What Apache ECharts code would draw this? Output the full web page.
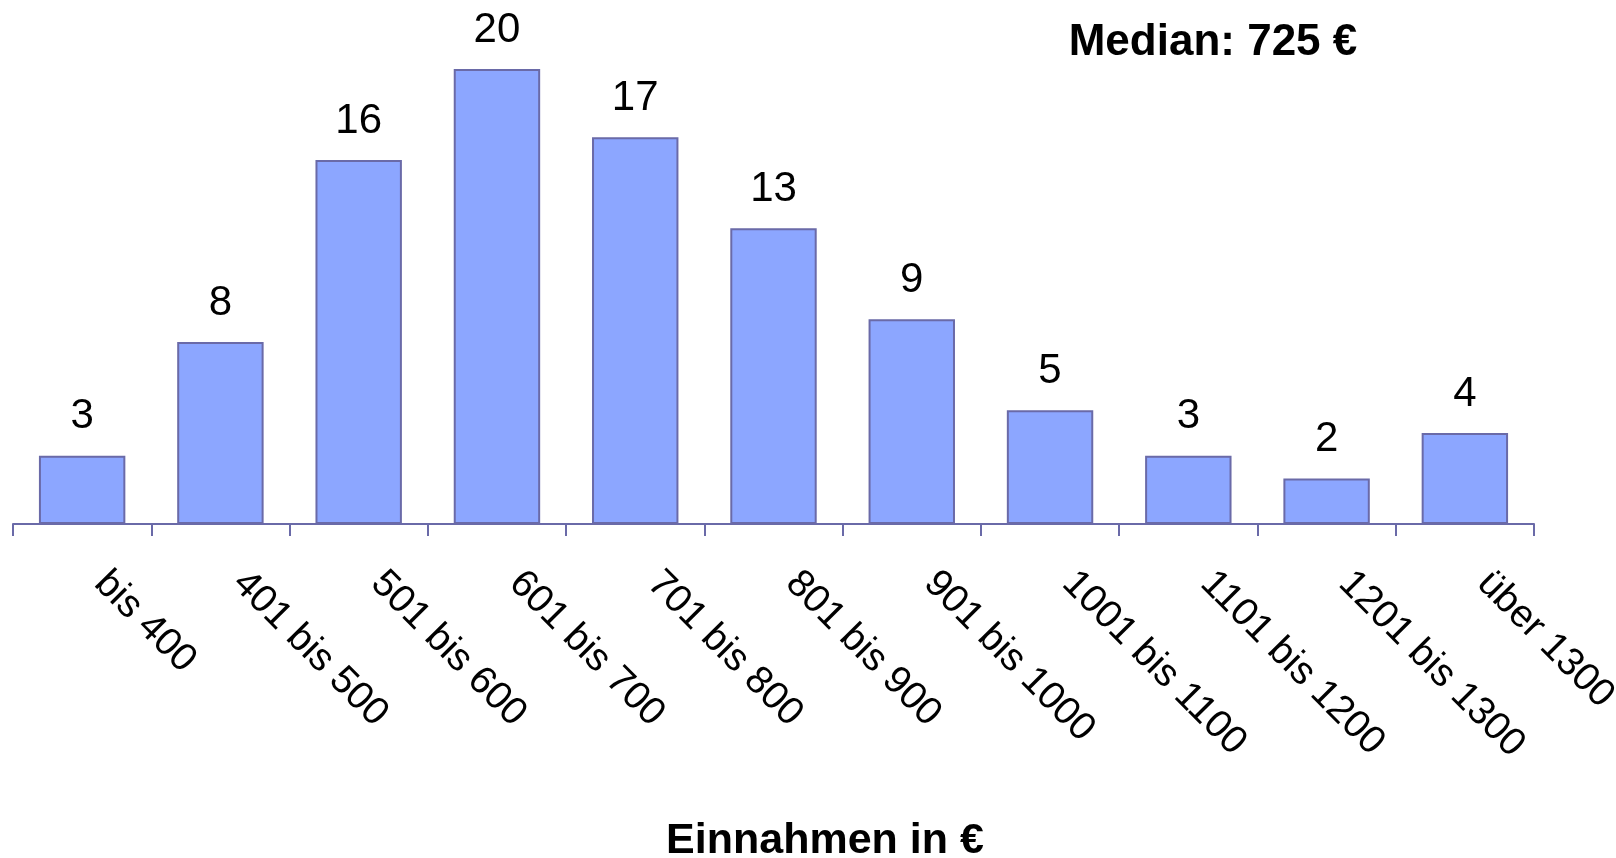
<!DOCTYPE html>
<html>
<head>
<meta charset="utf-8">
<style>
  html, body { margin: 0; padding: 0; background: #ffffff; }
  #chart { width: 1616px; height: 858px; }
</style>
<script src="https://cdn.jsdelivr.net/npm/echarts@6/dist/echarts.min.js"></script>
</head>
<body>
<div id="chart"></div>
<script>
// Income brackets (€) and number of respondents in each
const categories = ['bis 400', '401 bis 500', '501 bis 600', '601 bis 700', '701 bis 800',
  '801 bis 900', '901 bis 1000', '1001 bis 1100', '1101 bis 1200', '1201 bis 1300', 'über 1300'];
const counts = [3, 8, 16, 20, 17, 13, 9, 5, 3, 2, 4];
const medianText = 'Median: 725 €';
const axisTitle = 'Einnahmen in €';

const FONT = 'Liberation Sans, Arial, Helvetica, sans-serif';
const BAR_FILL = '#8ca6ff';
const BAR_EDGE = '#6a6aa8';

const chart = echarts.init(document.getElementById('chart'), null, { renderer: 'canvas' });
chart.setOption({
  animation: false,
  backgroundColor: '#ffffff',
  title: [
    {
      text: medianText,
      left: 1208, top: 16, textAlign: 'center',
      textStyle: { fontFamily: FONT, fontSize: 44, fontWeight: 'bold', color: '#000' }
    },
    {
      text: axisTitle,
      left: 820, top: 815, textAlign: 'center',
      textStyle: { fontFamily: FONT, fontSize: 43, fontWeight: 'bold', color: '#000' }
    }
  ],
  grid: {
    left: 13, right: 82, top: 69, bottom: 334,
    containLabel: false,
    outerBoundsMode: 'none'
  },
  xAxis: {
    type: 'category',
    data: categories,
    boundaryGap: true,
    axisLine: { lineStyle: { color: BAR_EDGE, width: 2 } },
    axisTick: { show: true, length: 12, lineStyle: { color: BAR_EDGE, width: 2 } },
    axisLabel: {
      rotate: -45,
      interval: 0,
      margin: 35,
      padding: [0, 0, 0, 26],
      fontFamily: FONT,
      fontSize: 39,
      color: '#000'
    }
  },
  yAxis: {
    type: 'value',
    min: 0, max: 20,
    show: false
  },
  series: [{
    type: 'bar',
    data: counts,
    barWidth: '62.5%',
    itemStyle: { color: BAR_FILL, borderColor: BAR_EDGE, borderWidth: 2 },
    label: {
      show: true,
      position: 'top',
      distance: 18,
      fontFamily: FONT,
      fontSize: 42,
      color: '#000'
    }
  }]
});
</script>
</body>
</html>
